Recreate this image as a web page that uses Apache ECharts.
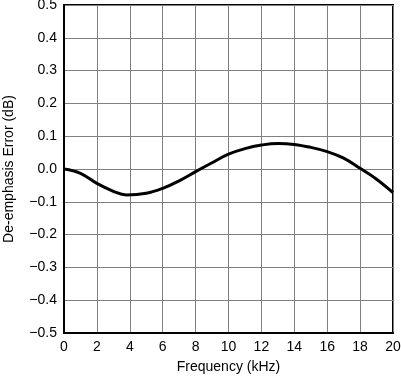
<!DOCTYPE html>
<html>
<head>
<meta charset="utf-8">
<script src="https://cdn.jsdelivr.net/npm/echarts@6/dist/echarts.min.js"></script>
<style>
  html, body { margin: 0; padding: 0; background: #fff; }
  #chart { width: 401px; height: 376px; }
</style>
</head>
<body>
<div id="chart"></div>
<script>
const freqKHz = [0, 1, 2, 3, 3.8, 5, 6, 7, 8, 9, 10, 11, 12, 13, 14, 15, 16, 17, 18, 19, 20];
const errorDb = [0, -0.013, -0.044, -0.068, -0.079, -0.074, -0.059, -0.036, -0.008, 0.019, 0.045, 0.062, 0.073, 0.078, 0.075, 0.066, 0.053, 0.033, 0.002, -0.031, -0.072];

const chart = echarts.init(document.getElementById('chart'));

function fmt(v) {
  return v.toFixed(1).replace('-', '\u2212');
}

const font = { fontFamily: 'Liberation Sans', fontSize: 14, color: '#000' };

chart.setOption({
  animation: false,
  grid: {
    left: 64, right: 8, top: 5, bottom: 43,
    outerBoundsMode: 'none',
    containLabel: false,
    show: true, borderColor: '#000', borderWidth: 2
  },
  xAxis: {
    type: 'value',
    min: 0, max: 20, interval: 2,
    name: 'Frequency (kHz)',
    nameLocation: 'middle',
    nameGap: 27,
    nameTextStyle: font,
    axisLine: { show: true, onZero: false, lineStyle: { color: '#000', width: 2 } },
    axisTick: { show: false },
    axisLabel: Object.assign({ margin: 7 }, font),
    splitLine: { show: true, lineStyle: { color: '#808080', width: 1 } }
  },
  yAxis: {
    type: 'value',
    min: -0.5, max: 0.5, interval: 0.1,
    name: 'De-emphasis Error (dB)',
    nameLocation: 'middle',
    nameGap: 48,
    nameTextStyle: font,
    axisLine: { show: true, onZero: false, lineStyle: { color: '#000', width: 2 } },
    axisTick: { show: false },
    axisLabel: Object.assign({ margin: 7, formatter: fmt }, font),
    splitLine: { show: true, lineStyle: { color: '#808080', width: 1 } }
  },
  series: [{
    type: 'line',
    data: freqKHz.map((x, i) => [x, errorDb[i]]),
    smooth: 0.4,
    symbol: 'none',
    lineStyle: { color: '#000', width: 3 }
  }]
});
</script>
</body>
</html>
